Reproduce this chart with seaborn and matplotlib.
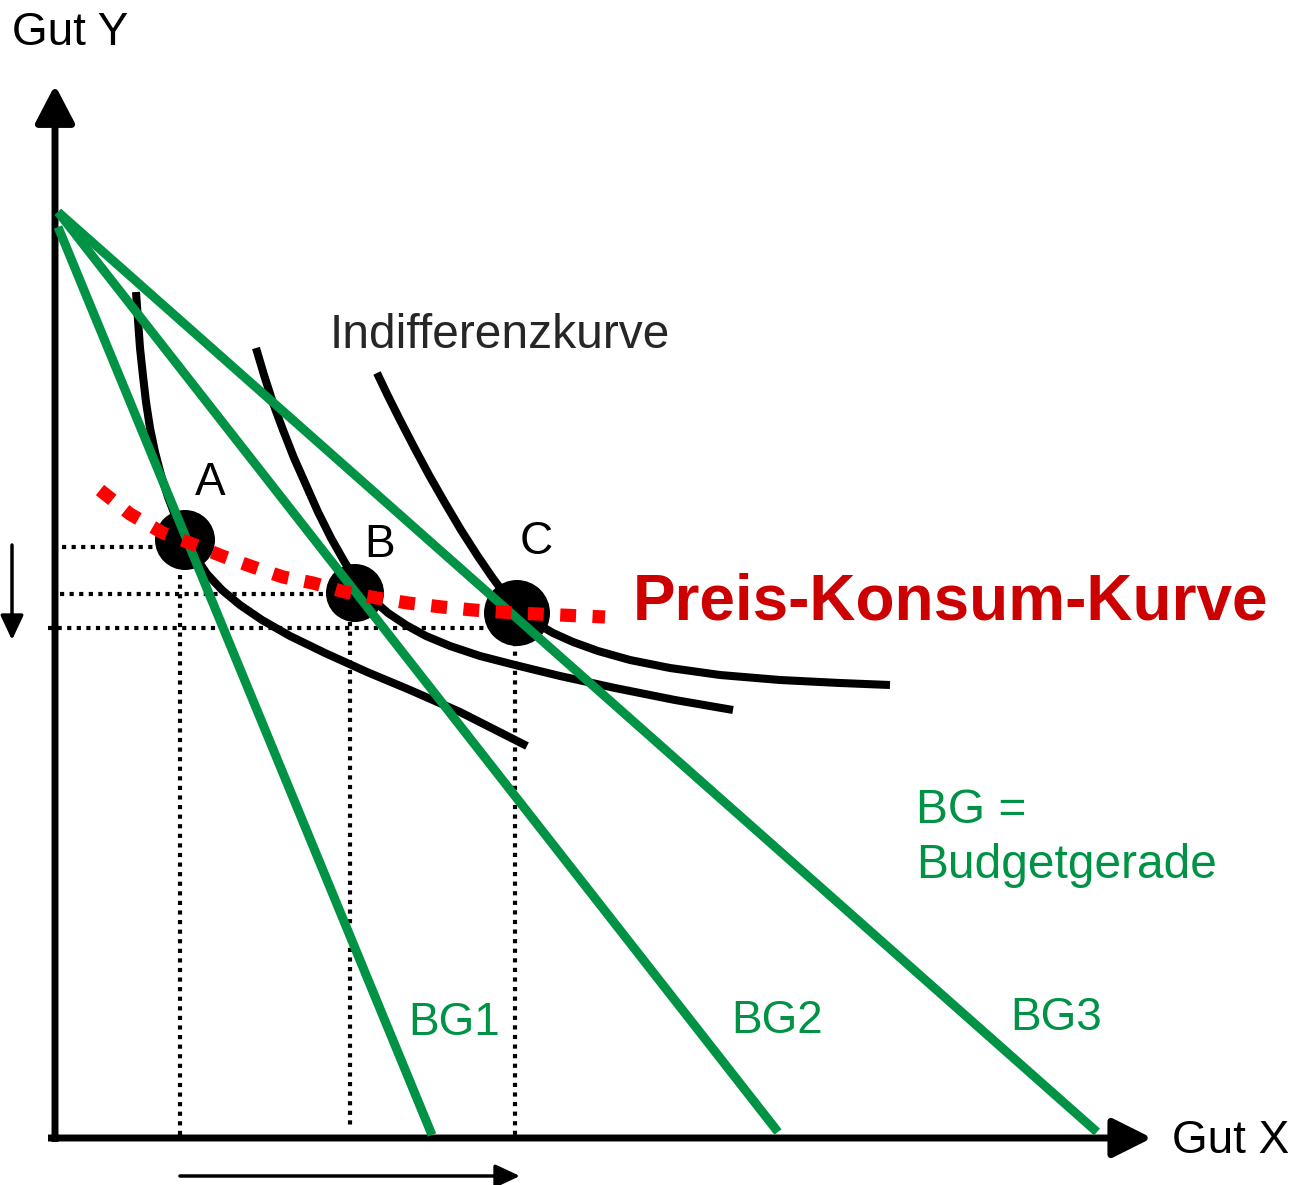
import numpy as np
import pandas as pd
import seaborn as sns
import matplotlib.pyplot as plt

# canvas units = pixels of the 1312x1185 picture, y grows downwards
W, H = 1312, 1185

# budget lines (start on the y axis, end on the x axis)
bg_names = ["BG1", "BG2", "BG3"]
bg_x = [[58, 432], [58, 778], [58, 1097]]
bg_y = [[227, 1135], [212, 1132], [212, 1132]]
bg_label_xy = [(408, 1035), (731, 1033), (1010, 1030)]

# indifference curves
ic1_x = [136, 138, 140, 143, 146, 150, 155, 161, 168, 176, 185, 195, 207, 222, 240, 262, 290, 325, 367, 410, 460, 527]
ic1_y = [292, 320, 348, 376, 402, 428, 452, 475, 497, 518, 537, 556, 574, 590, 605, 620, 636, 653, 672, 690, 712, 746]
ic2_x = [256, 264, 273, 283, 294, 306, 318, 331, 344, 357, 372, 388, 406, 426, 450, 480, 515, 560, 615, 675, 733]
ic2_y = [348, 375, 403, 430, 458, 485, 512, 538, 561, 582, 599, 613, 625, 636, 646, 656, 665, 676, 688, 700, 710]
ic3_x = [377, 388, 400, 414, 429, 445, 461, 477, 492, 506, 520, 536, 553, 573, 598, 630, 670, 720, 780, 840, 890]
ic3_y = [373, 396, 420, 447, 475, 503, 530, 555, 577, 596, 611, 623, 633, 642, 651, 660, 668, 675, 680, 683, 685]

# price-consumption curve
pkk_x = [100, 130, 163, 190, 222, 253, 283, 313, 345, 377, 408, 442, 473, 515, 560, 605]
pkk_y = [490, 514, 533, 543, 556, 567, 577, 583, 592, 598, 603, 607, 610, 613, 615, 617]

# optimum points
pt_names = ["A", "B", "C"]
pt_x = [185, 355, 517]
pt_y = [540, 593, 613]
pt_r = [30, 29, 33]
pt_label_x = [195, 364, 520]
pt_label_y = [495, 557, 554]

# guide lines
guide_h_y = [547, 594, 628]
guide_h_x0 = [62, 60, 48]
guide_h_x1 = [155, 330, 492]
guide_v_x = [180, 350, 515]
guide_v_y0 = [575, 622, 642]
guide_v_y1 = [1136, 1128, 1136]

GREEN = "#009245"
RED = "#ff0000"
DARKRED = "#cc0000"

sns.set_theme(style="white")
plt.rcParams['font.family'] = ['Liberation Sans', 'DejaVu Sans']

fig = plt.figure(figsize=(W / 100, H / 100), dpi=100)
ax = fig.add_axes([0, 0, 1, 1])
ax.set_xlim(0, W)
ax.set_ylim(H, 0)
ax.axis("off")

# dotted guides
dot = (0, (1, 1.3))
ax.hlines(guide_h_y, guide_h_x0, guide_h_x1, colors="black", lw=3, linestyles=[dot], zorder=1)
ax.vlines(guide_v_x, guide_v_y0, guide_v_y1, colors="black", lw=3, linestyles=[dot], zorder=1)

# indifference curves
for xs, ys in [(ic1_x, ic1_y), (ic2_x, ic2_y), (ic3_x, ic3_y)]:
    ax.plot(xs, ys, color="black", linewidth=5.8, zorder=2,
            solid_capstyle="butt", solid_joinstyle="round")

# points
pts = pd.DataFrame({"x": pt_x, "y": pt_y, "r": pt_r})
for _, row in pts.iterrows():
    sns.scatterplot(x=[row.x], y=[row.y], s=(2 * row.r * 0.72) ** 2, color="black",
                    edgecolor="none", ax=ax, zorder=3)

# budget lines
for name, xs, ys in zip(bg_names, bg_x, bg_y):
    ax.plot(xs, ys, color=GREEN, linewidth=6.5, zorder=4, solid_capstyle="butt")

# price-consumption curve
ax.plot(pkk_x, pkk_y, color=RED, linewidth=9.5, zorder=5,
        linestyle=(0, (1.2, 1.25)), dash_capstyle="butt")

# axes arrows
ax.annotate("", xy=(55, 85), xytext=(55, 1142),
            arrowprops=dict(arrowstyle="-|>,head_length=23,head_width=12", lw=5,
                            color="black", shrinkA=0, shrinkB=0, mutation_scale=1,
                            capstyle="butt"))
ax.annotate("", xy=(1152, 1138), xytext=(48, 1138),
            arrowprops=dict(arrowstyle="-|>,head_length=24,head_width=12", lw=5,
                            color="black", shrinkA=0, shrinkB=0, mutation_scale=1,
                            capstyle="butt"))
ax.annotate("", xy=(12, 640), xytext=(12, 545),
            arrowprops=dict(arrowstyle="-|>,head_length=15,head_width=7", lw=2.5,
                            color="black", shrinkA=0, shrinkB=0, mutation_scale=1))
ax.annotate("", xy=(520, 1176), xytext=(180, 1176),
            arrowprops=dict(arrowstyle="-|>,head_length=15,head_width=7", lw=2.5,
                            color="black", shrinkA=0, shrinkB=0, mutation_scale=1))

# texts
ax.text(12, 45, "Gut Y", fontsize=33, color="black", va="baseline")
ax.text(1172, 1153, "Gut X", fontsize=33, color="black", va="baseline")
ax.text(330, 348, "Indifferenzkurve", fontsize=34.5, color="#262626", va="baseline")
for name, lx, ly in zip(pt_names, pt_label_x, pt_label_y):
    ax.text(lx, ly, name, fontsize=33, color="black", va="baseline")
ax.text(633, 619, "Preis-Konsum-Kurve", fontsize=46, fontweight="bold", color=DARKRED,
        va="baseline")
ax.text(916, 823, "BG =", fontsize=34.5, color=GREEN, va="baseline")
ax.text(916, 878, "Budgetgerade", fontsize=34.5, color=GREEN, va="baseline")
for name, (lx, ly) in zip(bg_names, bg_label_xy):
    ax.text(lx, ly, name, fontsize=33, color=GREEN, va="baseline")

fig.savefig("out.png", dpi=100)
